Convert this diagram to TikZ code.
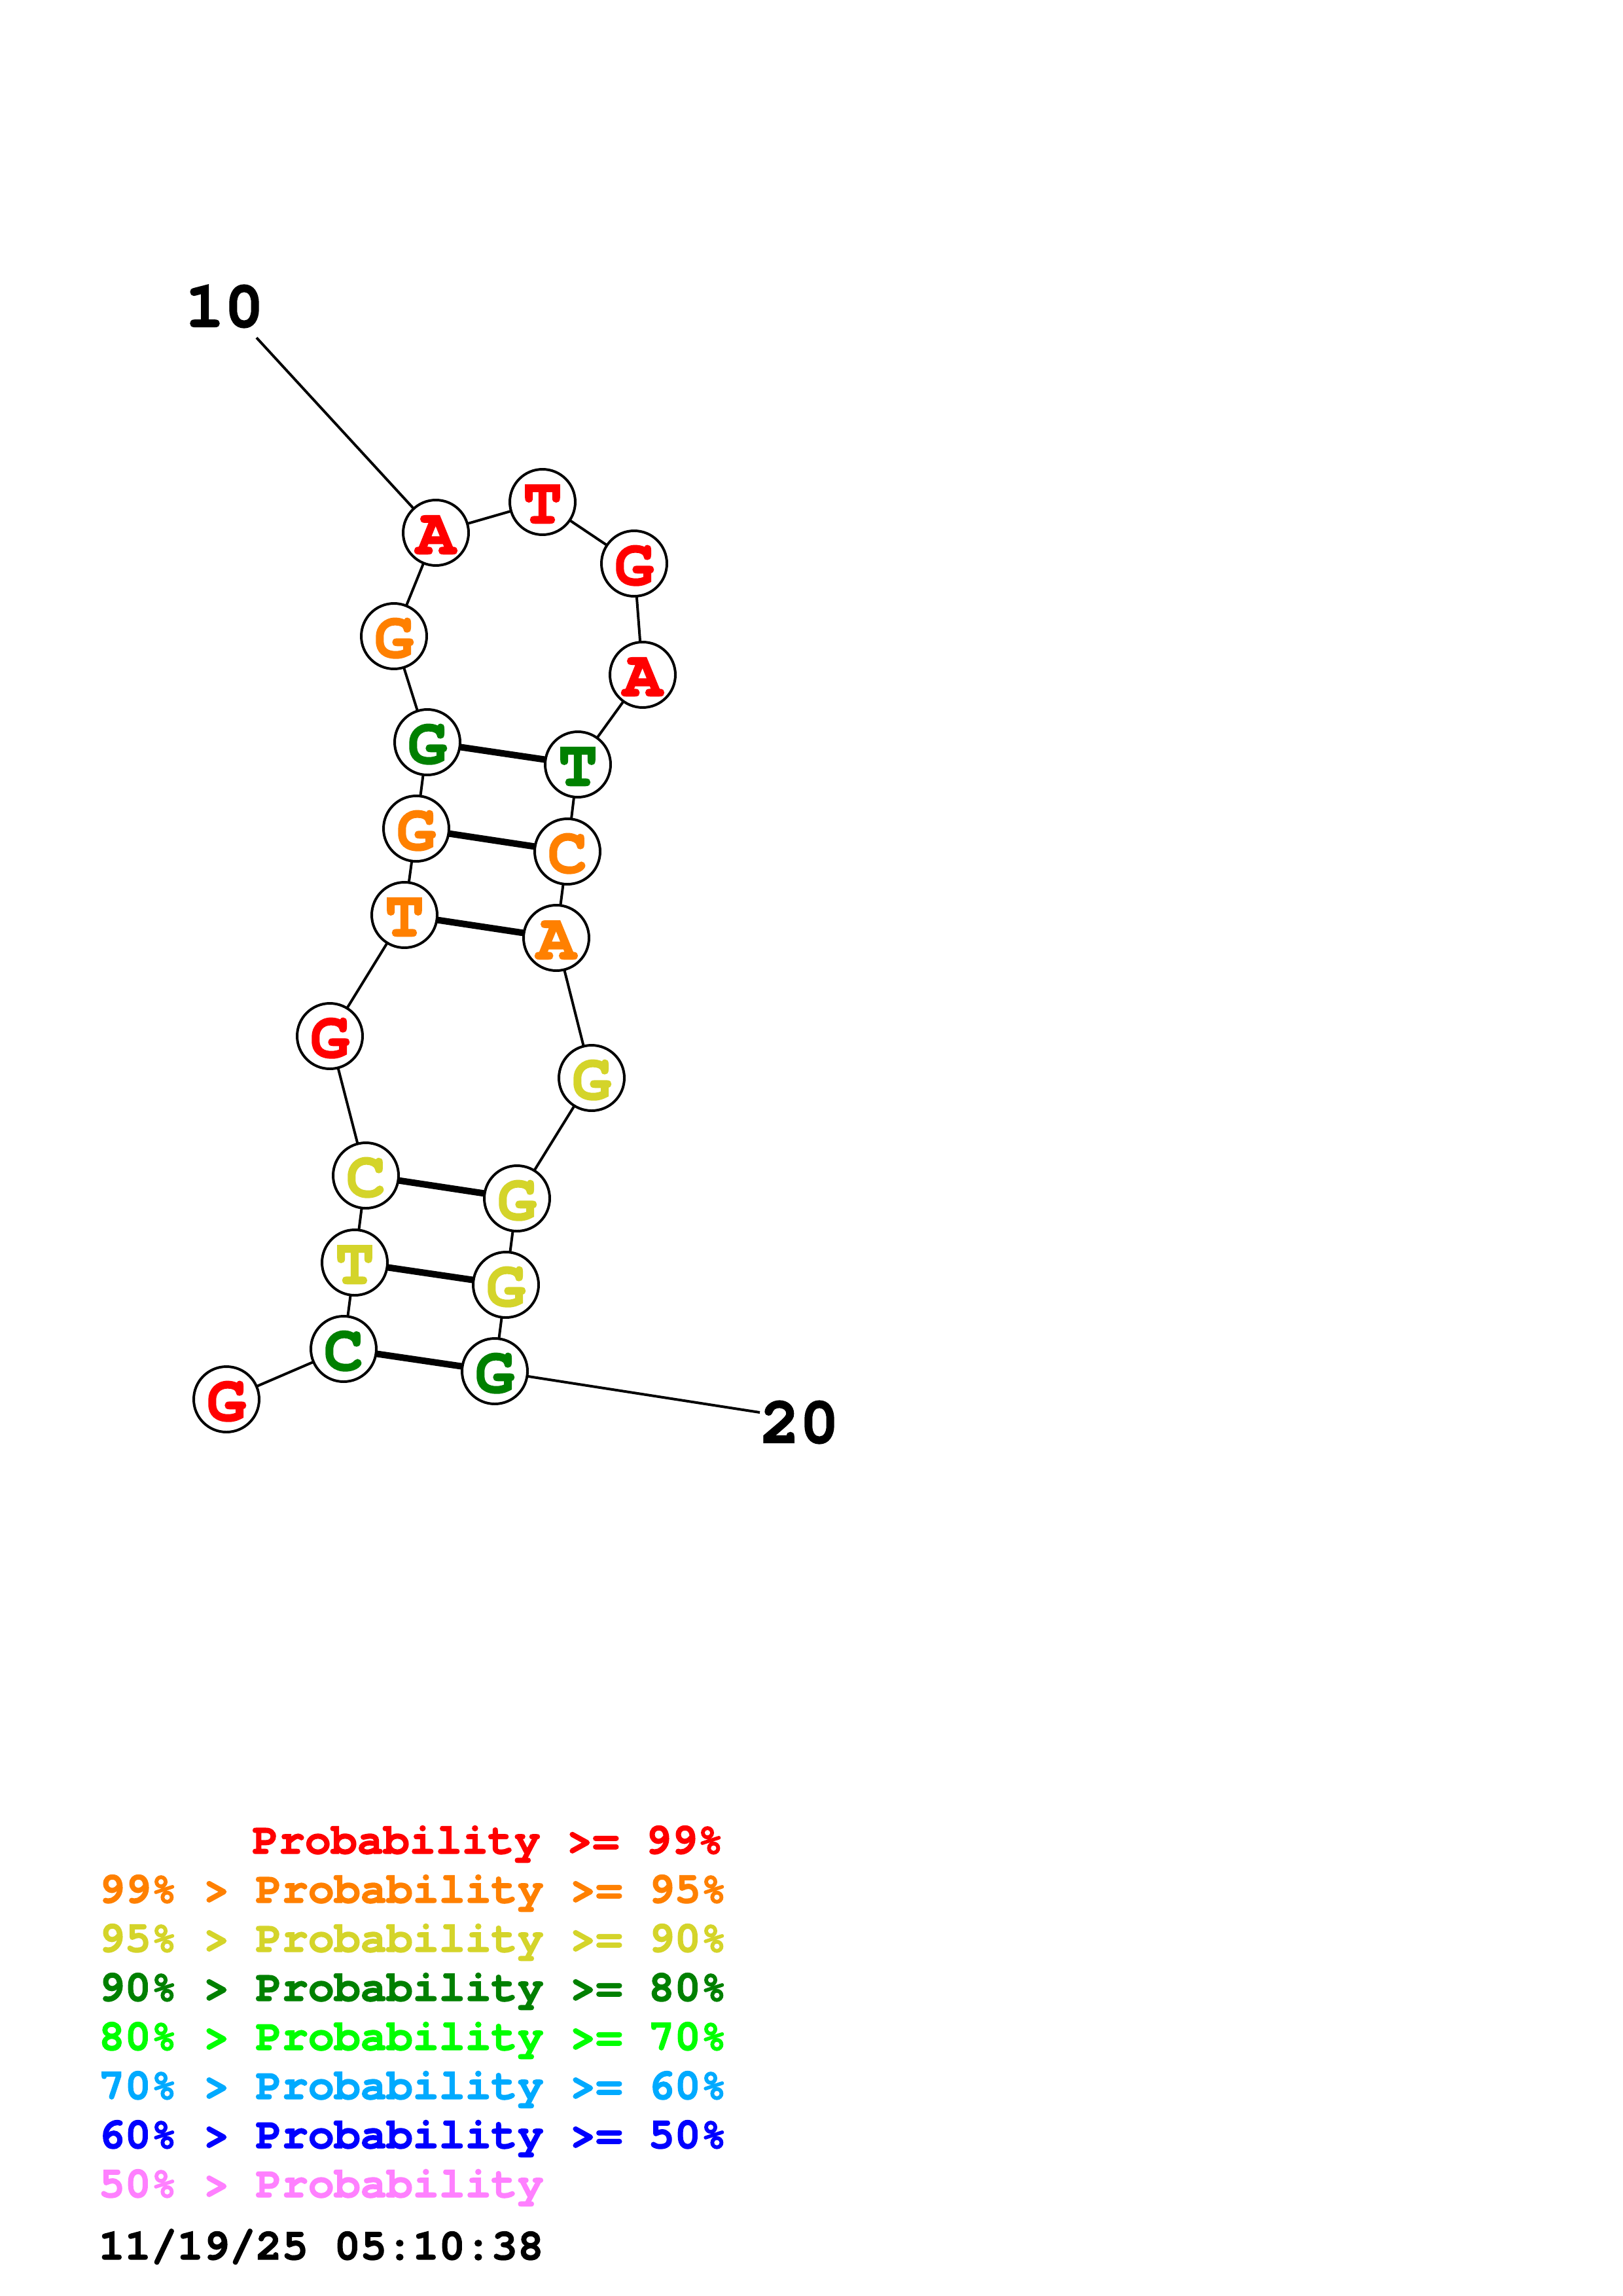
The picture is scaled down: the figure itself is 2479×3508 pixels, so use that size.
\documentclass[tikz,border=0pt]{standalone}
\usepackage{fontspec}
\newfontfamily\cour{TeX Gyre Cursor}[BoldFeatures={FakeBold=2}]
\usetikzlibrary{backgrounds}
\definecolor{pRed}{RGB}{255,0,0}
\definecolor{pOrange}{RGB}{255,128,0}
\definecolor{pYellow}{RGB}{212,212,42}
\definecolor{pDkGreen}{RGB}{0,128,0}
\definecolor{pGreen}{RGB}{0,255,0}
\definecolor{pLtBlue}{RGB}{0,170,255}
\definecolor{pBlue}{RGB}{0,0,255}
\definecolor{pPink}{RGB}{255,128,255}
\tikzset{
  nt/.style={circle, draw=black, fill=white, line width=0.95pt, minimum size=24pt, inner sep=0pt,
    font=\cour\bfseries\fontsize{24}{24}\selectfont, text height=15.5pt, text depth=0pt},
  bb/.style={line width=0.95pt, black},
  pair/.style={line width=2.4pt, black},
  numlbl/.style={font=\cour\bfseries\fontsize{24}{24}\selectfont, inner sep=0pt},
  leg/.style={font=\cour\bfseries\fontsize{16}{16}\selectfont, anchor=base west, inner sep=0pt}
}
\begin{document}
\begin{tikzpicture}[x=0.24pt,y=-0.24pt]
\useasboundingbox (0,0) rectangle (2479,3508);
% nucleotides
\node[nt, text=pRed]     (n1)  at (346,2138) {G};
\node[nt, text=pDkGreen] (n2)  at (525,2061) {C};
\node[nt, text=pYellow]  (n3)  at (542,1929) {T};
\node[nt, text=pYellow]  (n4)  at (559,1796) {C};
\node[nt, text=pRed]     (n5)  at (504,1583) {G};
\node[nt, text=pOrange]  (n6)  at (618,1398) {T};
\node[nt, text=pOrange]  (n7)  at (636,1266) {G};
\node[nt, text=pDkGreen] (n8)  at (653,1134) {G};
\node[nt, text=pOrange]  (n9)  at (602,972)  {G};
\node[nt, text=pRed]     (n10) at (666,814)  {A};
\node[nt, text=pRed]     (n11) at (829,767)  {T};
\node[nt, text=pRed]     (n12) at (969,861)  {G};
\node[nt, text=pRed]     (n13) at (982,1031) {A};
\node[nt, text=pDkGreen] (n14) at (883,1168) {T};
\node[nt, text=pOrange]  (n15) at (867,1301) {C};
\node[nt, text=pOrange]  (n16) at (850,1433) {A};
\node[nt, text=pYellow]  (n17) at (904,1647) {G};
\node[nt, text=pYellow]  (n18) at (790,1831) {G};
\node[nt, text=pYellow]  (n19) at (773,1963) {G};
\node[nt, text=pDkGreen] (n20) at (756,2095) {G};
% position labels
\node[numlbl] (l10) at (343,468) {10};
\node[numlbl] (l20) at (1222,2173) {20};
\coordinate (t10) at (392,516);
\coordinate (t20) at (1161,2158);
\begin{scope}[on background layer]
\fill[white] (0,0) rectangle (2479,3508);
\draw[bb] (n1.center) -- (n2.center) -- (n3.center) -- (n4.center) -- (n5.center) -- (n6.center) -- (n7.center) -- (n8.center) -- (n9.center) -- (n10.center) -- (n11.center) -- (n12.center) -- (n13.center) -- (n14.center) -- (n15.center) -- (n16.center) -- (n17.center) -- (n18.center) -- (n19.center) -- (n20.center);
\draw[bb] (t10) -- (n10.center);
\draw[bb] (n20.center) -- (t20);
\draw[pair] (n2.center) -- (n20.center);
\draw[pair] (n3.center) -- (n19.center);
\draw[pair] (n4.center) -- (n18.center);
\draw[pair] (n6.center) -- (n16.center);
\draw[pair] (n7.center) -- (n15.center);
\draw[pair] (n8.center) -- (n14.center);
\end{scope}
% legend
\node[leg, text=pRed]     (g1) at (385,2832) {Probability\ >=\ 99\%};
\node[leg, text=pOrange]  (g2) at (150,2907) {99\%\ >\ Probability\ >=\ 95\%};
\node[leg, text=pYellow]  (g3) at (150,2982) {95\%\ >\ Probability\ >=\ 90\%};
\node[leg, text=pDkGreen] (g4) at (150,3057) {90\%\ >\ Probability\ >=\ 80\%};
\node[leg, text=pGreen]   (g5) at (150,3132) {80\%\ >\ Probability\ >=\ 70\%};
\node[leg, text=pLtBlue]  (g6) at (150,3207) {70\%\ >\ Probability\ >=\ 60\%};
\node[leg, text=pBlue]    (g7) at (150,3282) {60\%\ >\ Probability\ >=\ 50\%};
\node[leg, text=pPink]    (g8) at (150,3357) {50\%\ >\ Probability};
\node[leg, text=black]    (ts) at (150,3452) {11/19/25\ 05:10:38};
\end{tikzpicture}
\end{document}
